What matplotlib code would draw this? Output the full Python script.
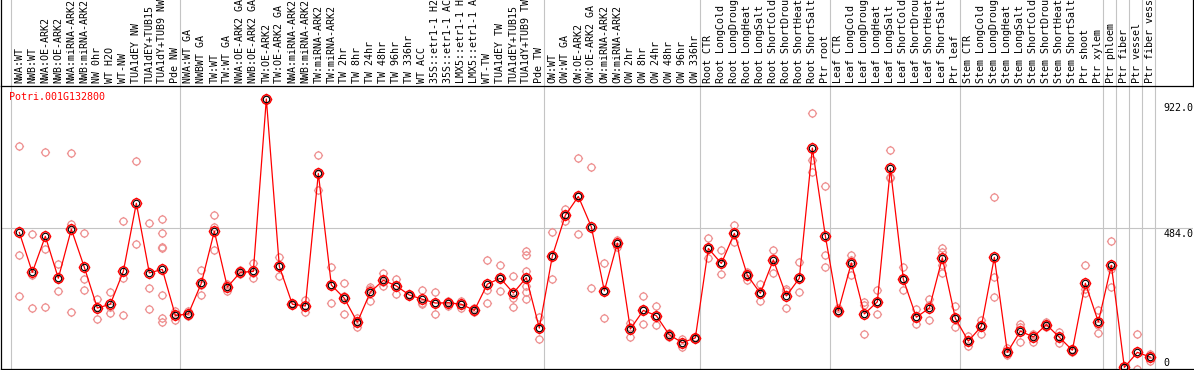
import numpy as np
import matplotlib
matplotlib.use("Agg")
import matplotlib.pyplot as plt
from matplotlib.path import Path

gene = "Potri.001G132800"

labels = [
    "NWA:WT", "NWB:WT", "NWA:OE-ARK2", "NWB:OE-ARK2", "NWA:miRNA-ARK2", "NWB:miRNA-ARK2",
    "NW 0hr", "WT H2O", "WT-NW", "TUA1dEY NW", "TUA1dEY+TUB15", "TUA1dY+TUB9 NW", "Pde NW",
    "NWA:WT GA", "NWBWT GA", "TW:WT", "TW:WT GA", "NWA:OE-ARK2 GA", "NWB:OE-ARK2 GA",
    "TW:OE-ARK2", "TW:OE-ARK2 GA", "NWA:miRNA-ARK2", "NWB:miRNA-ARK2", "TW:miRNA-ARK2",
    "TW:miRNA-ARK2", "TW 2hr", "TW 8hr", "TW 24hr", "TW 48hr", "TW 96hr", "TW 336hr",
    "WT ACC", "35S::etr1-1 H2", "35S::etr1-1 AC", "LMX5::etr1-1 H", "LMX5::etr1-1 A",
    "WT-TW", "TUA1dEY TW", "TUA1dEY+TUB15", "TUA1dY+TUB9 TW", "Pde TW",
    "OW:WT", "OW:WT GA", "OW:OE-ARK2", "OW:OE-ARK2 GA", "OW:miRNA-ARK2", "OW:miRNA-ARK2",
    "OW 2hr", "OW 8hr", "OW 24hr", "OW 48hr", "OW 96hr", "OW 336hr",
    "Root CTR", "Root LongCold", "Root LongDroug", "Root LongHeat", "Root LongSalt",
    "Root ShortCold", "Root ShortDrou", "Root ShortHeat", "Root ShortSalt", "Ptr root",
    "Leaf CTR", "Leaf LongCold", "Leaf LongDroug", "Leaf LongHeat", "Leaf LongSalt",
    "Leaf ShortCold", "Leaf ShortDrou", "Leaf ShortHeat", "Leaf ShortSalt", "Ptr leaf",
    "Stem CTR", "Stem LongCold", "Stem LongDroug", "Stem LongHeat", "Stem LongSalt",
    "Stem ShortCold", "Stem ShortDrou", "Stem ShortHeat", "Stem ShortSalt", "Ptr shoot",
    "Ptr xylem", "Ptr phloem", "Ptr fiber", "Ptr vessel", "Ptr fiber vess",
]

means = [
    470, 335, 457, 315, 481, 352, 214, 227, 338, 569, 333, 345, 189, 194, 298, 474, 285,
    335, 338, 922, 355, 227, 221, 670, 292, 247, 166, 268, 308, 289, 258, 244, 231, 232, 227, 206,
    295, 315, 265, 317, 146, 390, 528, 592, 489, 272, 434, 143, 206, 188, 123, 97, 113, 416,
    365, 467, 325, 264, 377, 255, 315, 756, 458, 205,
    367, 194, 235, 687, 311, 183, 214, 384, 179, 102,
    152, 386, 64, 136, 116, 158, 115, 71, 298, 167,
    359, 13, 64, 48,
]

reps = [
    [763, 393, 254], [465, 327, 213], [741, 413, 216], [362, 311, 271], [738, 499, 200],
    [467, 311, 274], [244, 219, 177], [267, 216, 196], [508, 315, 189], [711, 430],
    [501, 281, 210], [514, 467, 422, 417, 257, 181, 168], [204, 190, 174], [203, 194, 186],
    [342, 293, 258], [528, 490, 411], [294, 289, 272], [342, 335, 328], [367, 334, 315],
    [922], [386, 355, 324], [230, 227, 223], [241, 221, 202], [731, 668, 614],
    [352, 292, 230], [298, 255, 194], [181, 166, 150], [285, 279, 239], [333, 303, 288],
    [312, 292, 260], [262, 258, 255], [274, 230, 227], [268, 231, 194], [237, 232, 221],
    [239, 227, 213], [213, 206, 201], [376, 274, 230], [359, 315, 271], [323, 249, 216],
    [408, 394, 338, 289, 267, 246], [185, 146, 109], [470, 390, 311], [548, 528, 509],
    [721, 592, 464], [691, 281], [367, 272, 179], [445, 434, 420], [162, 149, 117],
    [255, 206, 160], [221, 188, 156], [131, 123, 115], [109, 97, 81], [117, 113, 108],
    [451, 416, 385], [410, 365, 329], [495, 467, 439], [337, 325, 309], [297, 264, 239],
    [411, 385, 332], [280, 272, 213], [370, 315, 268], [873, 715, 674], [626, 394, 352],
    [213, 205, 196], [394, 377, 325], [236, 224, 125], [275, 235, 194], [748, 657, 653],
    [353, 311, 274], [211, 183, 159], [244, 224, 174], [419, 405, 360, 332], [221, 179, 149],
    [121, 102, 86], [174, 157, 125], [589, 318, 250], [78, 64, 55], [160, 151, 99],
    [125, 122, 100], [166, 158, 151], [134, 115, 95], [76, 71, 65], [359, 277, 264],
    [207, 157, 128], [440, 347, 286], [13], [125, 6], [57, 49, 36],
]

group_sizes = [13, 28, 12, 10, 10, 11, 1, 1, 1, 1]
scale_vals = [922.0, 484.0, 0]
scale_text = ["922.0", "484.0", "0"]

MONO = "DejaVu Sans Mono"
GRID = "#c4c4c4"
PINK = "#ee9090"

W, H = 1194, 370
fig = plt.figure(figsize=(W / 100, H / 100), dpi=100)

# pixel layout of the original
left, right = 1 / W, 1193 / W
sep = 1 - 86 / H
bot = 1 - 369 / H
ax = fig.add_axes([left, bot, right - left, sep - bot])
axh = fig.add_axes([left, sep, right - left, 1 - sep], sharex=ax)

x = np.arange(len(labels))
ax.set_xlim(-1.41, 90.28)
ax.set_ylim(7.6, 966)

def ticked_circle(r):
    circ = Path.unit_circle()
    ticks = Path([(0, 1), (0, r), (0, -1), (0, -r), (1, 0), (r, 0), (-1, 0), (-r, 0)],
                 [Path.MOVETO, Path.LINETO] * 4)
    return Path.make_compound_path(circ, ticks)

bounds = np.concatenate([[0], np.cumsum(group_sizes)]) - 0.62
for b in bounds:
    ax.axvline(b, color=GRID, lw=0.8, zorder=0)
    axh.axvline(b, color=GRID, lw=0.8, zorder=0)
ax.axhline(484, color=GRID, lw=0.8, zorder=0)

rx = [i for i, r in enumerate(reps) for _ in r]
ry = [v for r in reps for v in r]
ax.plot(rx, ry, ls="none", marker=ticked_circle(1.3), ms=6.6, mfc="none",
        mec=PINK, mew=0.9, zorder=2)
ax.plot(x, means, color="red", lw=0.9, zorder=3)
ax.plot(x, means, ls="none", marker=ticked_circle(1.25), ms=8.4, mfc="none",
        mec="red", mew=1.0, zorder=4)
ax.plot(x, means, ls="none", marker="o", ms=4.6, mfc="none", mec="black",
        mew=0.8, zorder=5)

# right side scale labels
offs = [-11.7, -8.4, 5.2]
for v, t, o in zip(scale_vals, scale_text, offs):
    ax.annotate(t, (88, v), xytext=(0, o), textcoords="offset pixels",
                ha="left", va="baseline", fontsize=7.2, family=MONO, color="black",
                annotation_clip=False)

fig.text(9.5 / W, 1 - 100 / H, gene, color="red", fontsize=7.2, family=MONO,
         va="baseline", ha="left")

for i, lab in enumerate(labels):
    axh.text(i, 0.03, lab, rotation=90, ha="center", va="bottom", fontsize=7.2,
             family=MONO, transform=axh.get_xaxis_transform(), clip_on=True)

for a in (ax, axh):
    a.set_xticks([])
    a.set_yticks([])
    for s in a.spines.values():
        s.set_color("black")
        s.set_linewidth(0.9)
ax.spines["top"].set_visible(False)
ax.spines["right"].set_visible(False)
axh.spines["top"].set_visible(False)

fig.savefig("out.png", dpi=100)
